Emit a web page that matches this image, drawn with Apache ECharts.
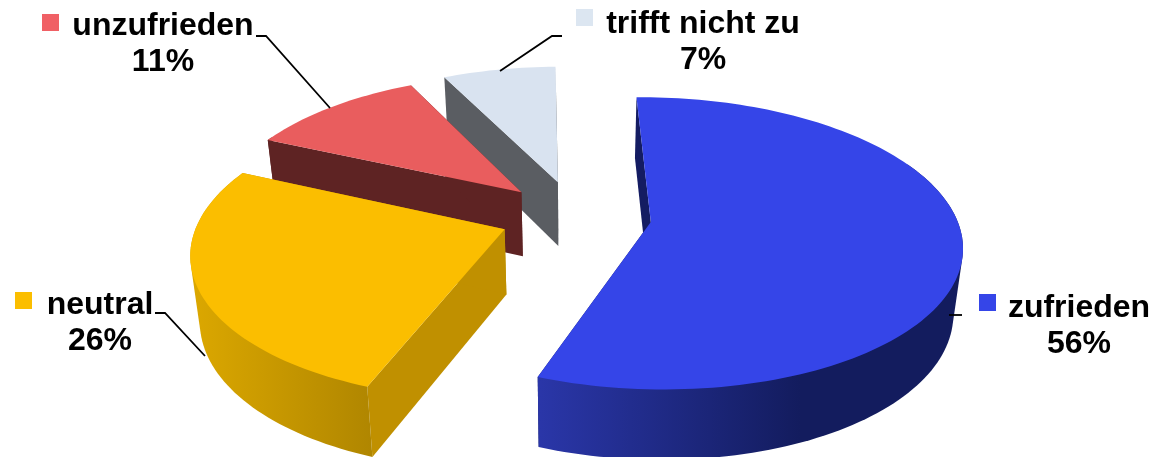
<!DOCTYPE html>
<html><head><meta charset="utf-8">
<style>html,body{margin:0;padding:0;background:#fff}#c{width:1150px;height:457px}</style>
<script src="https://cdn.jsdelivr.net/npm/echarts@6/dist/echarts.min.js"></script>
</head><body><div id="c"></div>
<script>
const categories = ['zufrieden', 'neutral', 'unzufrieden', 'trifft nicht zu'];
const values = [56, 26, 11, 7];
const topColors = ['#3545E8', '#FBBE00', '#E95D5E', '#D9E3F0'];
const keyColors = ['#3545E8', '#FBBE00', '#F06065', '#DCE6F1'];
const cutColors = ['#141C62', '#C09000', '#5E2323', '#5A5D62'];
const wallFrom = ['#2A36A8', '#DCA800', '#5E2323', '#AAB2BC'];
const wallTo = ['#131C5E', '#B08600', '#5E2323', '#AAB2BC'];
const wallRange = [[540, 800], [190, 372], [268, 400], [440, 560]];
const offsets = [[0.247, 0], [-0.2275, 0.05], [-0.18, -0.215], [-0.058, -0.29]];
const labelAt = [[1079, 306], [100, 303], [163, 24], [703, 22]];
const keyAt = [[979, 294], [15, 292], [42, 14], [576, 9]];
const leaders = [
  [[949, 315], [962, 315]],
  [[155, 313], [165, 313], [205, 356]],
  [[256, 36], [266, 36], [330, 108]],
  [[562, 36], [552, 36], [500, 71]]
];
const drawOrder = [3, 2, 0, 1];
const view = {cx: 575, cy: 222, A: 307, B: 143, k: 0.146, H: 65, shrink: 0.025, start: -1};

const total = values.reduce((a, b) => a + b, 0);
function project(X, Y, z) {
  const s = 1 / (1 - view.k * Y);
  let x = view.cx + view.A * X * s;
  const y = view.cy + view.B * Y * s + z * view.H * Math.pow(s, 0.5);
  x = view.cx + (x - view.cx) * (1 - view.shrink * z);
  return [x, y];
}
function rim(i, deg, z) {
  const t = deg * Math.PI / 180;
  return project(offsets[i][0] + Math.sin(t), offsets[i][1] - Math.cos(t), z);
}
function apex(i, z) { return project(offsets[i][0], offsets[i][1], z); }

const spans = [];
let acc = view.start;
values.forEach(v => { const d = v / total * 360; spans.push([acc, acc + d]); acc += d; });

function hull(points) {
  const p = points.slice().sort((a, b) => a[0] - b[0] || a[1] - b[1]);
  const cross = (o, a, b) => (a[0] - o[0]) * (b[1] - o[1]) - (a[1] - o[1]) * (b[0] - o[0]);
  const lo = [], up = [];
  p.forEach(q => { while (lo.length > 1 && cross(lo[lo.length - 2], lo[lo.length - 1], q) <= 0) lo.pop(); lo.push(q); });
  p.slice().reverse().forEach(q => { while (up.length > 1 && cross(up[up.length - 2], up[up.length - 1], q) <= 0) up.pop(); up.push(q); });
  return lo.slice(0, -1).concat(up.slice(0, -1));
}

function sliceElements(i) {
  const out = [];
  const [a0, a1] = spans[i];
  const n = Math.ceil((a1 - a0) / 1.5);
  const grad = new echarts.graphic.LinearGradient(wallRange[i][0], 0, wallRange[i][1], 0,
    [{offset: 0, color: wallFrom[i]}, {offset: 1, color: wallTo[i]}], true);
  // cut faces
  [a0, a1].forEach(a => {
    out.push({type: 'polygon', shape: {points: [apex(i, 0), rim(i, a, 0), rim(i, a, 1), apex(i, 1)]},
      style: {fill: cutColors[i]}});
  });
  // outer wall: the hull of the rim's visible stretch at top and bottom
  const wallPts = [];
  for (let k = 0; k <= n; k++) {
    const d = a0 + (a1 - a0) * k / n;
    if (Math.cos(d * Math.PI / 180) > 0.45) continue;
    wallPts.push(rim(i, d, 0), rim(i, d, 1));
  }
  if (wallPts.length > 2) out.push({type: 'polygon', shape: {points: hull(wallPts)}, style: {fill: grad}});
  // top face
  const pts = [apex(i, 0)];
  for (let k = 0; k <= n; k++) pts.push(rim(i, a0 + (a1 - a0) * k / n, 0));
  out.push({type: 'polygon', shape: {points: pts}, style: {fill: topColors[i]}});
  return out;
}

const font = 'bold 32px "Liberation Sans", Arial, sans-serif';
function labelElements(i) {
  return [
    {type: 'rect', shape: {x: keyAt[i][0], y: keyAt[i][1], width: 17, height: 17}, style: {fill: keyColors[i]}},
    {type: 'text', style: {text: categories[i] + '\n' + values[i] + '%', x: labelAt[i][0], y: labelAt[i][1] - 16,
      textAlign: 'center', textVerticalAlign: 'top', font, lineHeight: 36, fill: '#000'}},
    {type: 'polyline', shape: {points: leaders[i]}, style: {stroke: '#000', lineWidth: 1.8, fill: 'none'}}
  ];
}

const chart = echarts.init(document.getElementById('c'), null, {renderer: 'canvas'});
chart.setOption({
  animation: false,
  backgroundColor: '#fff',
  series: [{
    type: 'custom',
    coordinateSystem: 'none',
    silent: true,
    clip: false,
    data: [0],
    renderItem: function () {
      const children = [];
      drawOrder.forEach(i => children.push(...sliceElements(i)));
      [0, 1, 2, 3].forEach(i => children.push(...labelElements(i)));
      return {type: 'group', children};
    }
  }]
});
</script></body></html>
